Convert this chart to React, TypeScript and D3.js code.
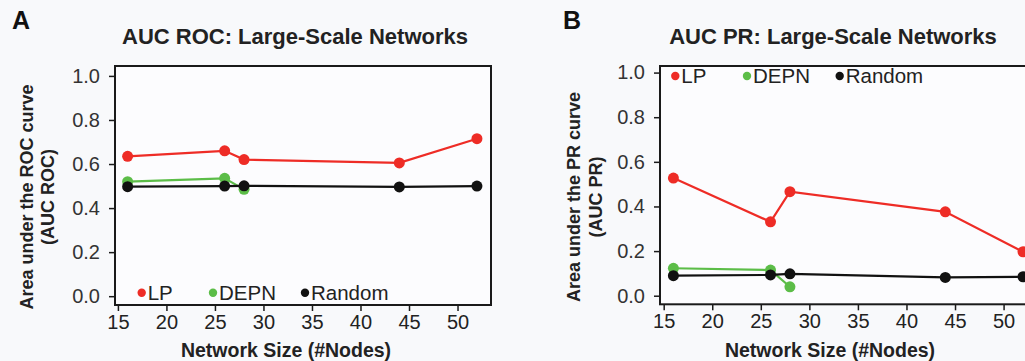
import React, { useEffect, useRef } from "react";
import * as d3 from "d3";

// network sizes (x) for each series
const nodeSizes = [16, 26, 28, 44, 52];
const depnSizes = [16, 26, 28];

// AUC ROC values
const rocLP = [0.635, 0.66, 0.62, 0.605, 0.715];
const rocDEPN = [0.52, 0.535, 0.485];
const rocRandom = [0.497, 0.5, 0.501, 0.496, 0.5];

// AUC PR values
const prLP = [0.527, 0.331, 0.466, 0.376, 0.197];
const prDEPN = [0.123, 0.115, 0.04];
const prRandom = [0.09, 0.093, 0.098, 0.082, 0.085];

const yTicks = [0, 0.2, 0.4, 0.6, 0.8, 1.0];
const xTicks = [15, 20, 25, 30, 35, 40, 45, 50];
const legendNames = ["LP", "DEPN", "Random"];

const COLORS = ["#ee2c26", "#5cbd48", "#111111"];
const FONT = "'Liberation Sans', Arial, sans-serif";

const panels = [
  {
    letter: "A",
    title: "AUC ROC: Large-Scale Networks",
    yLabel: ["Area under the ROC curve", "(AUC ROC)"],
    series: [rocLP, rocDEPN, rocRandom],
    box: { left: 115, right: 491, top: 66, bottom: 305 },
    xDomain: [14.7, 53.45],
    yDomain: [-0.04, 1.045],
    letterX: 12,
    titleX: 295,
    yLabelX: [33, 54],
    xLabelX: 286,
    legendY: 292.7,
    legendDots: [141.7, 213, 305],
  },
  {
    letter: "B",
    title: "AUC PR: Large-Scale Networks",
    yLabel: ["Area under the PR curve", "(AUC PR)"],
    series: [prLP, prDEPN, prRandom],
    box: { left: 660, right: 1040, top: 66, bottom: 304.3 },
    xDomain: [14.62, 53.75],
    yDomain: [-0.0385, 1.0295],
    letterX: 563,
    titleX: 833,
    yLabelX: [580, 602],
    xLabelX: 830,
    legendY: 76,
    legendDots: [675.3, 747, 839.7],
  },
];

const App = () => {
  const ref = useRef<SVGSVGElement>(null);

  useEffect(() => {
    const svg = d3.select(ref.current);
    svg.selectAll("*").remove();

    svg.append("rect").attr("width", 1025).attr("height", 361).attr("fill", "#f8f9fb");

    panels.forEach((p) => {
      const g = svg.append("g");
      const b = p.box;
      const x = d3.scaleLinear().domain(p.xDomain).range([b.left, b.right]);
      const y = d3.scaleLinear().domain(p.yDomain).range([b.bottom, b.top]);

      g.append("rect")
        .attr("x", b.left)
        .attr("y", b.top)
        .attr("width", b.right - b.left)
        .attr("height", b.bottom - b.top)
        .attr("fill", "#fcfcfe")
        .attr("stroke", "#1a1a1a")
        .attr("stroke-width", 2);

      const yAxis = d3
        .axisLeft(y)
        .tickValues(yTicks)
        .tickSize(6)
        .tickPadding(9)
        .tickFormat(d3.format(".1f"));
      const ya = g.append("g").attr("transform", `translate(${b.left},0)`).call(yAxis);
      ya.select(".domain").remove();
      ya.selectAll("line").attr("stroke", "#1a1a1a").attr("stroke-width", 1.5);
      ya.selectAll("text")
        .attr("font-family", FONT)
        .attr("font-size", 20)
        .attr("fill", "#333");

      const xAxis = d3.axisBottom(x).tickValues(xTicks).tickSize(6).tickPadding(4);
      const xa = g.append("g").attr("transform", `translate(0,${b.bottom})`).call(xAxis);
      xa.select(".domain").remove();
      xa.selectAll("line").attr("stroke", "#1a1a1a").attr("stroke-width", 1.5);
      xa.selectAll("text")
        .attr("font-family", "'Liberation Sans Narrow', " + FONT)
        .attr("font-size", 20)
        .attr("fill", "#222");

      const line = d3
        .line<[number, number]>()
        .x((d) => x(d[0]))
        .y((d) => y(d[1]));

      p.series.forEach((vals, i) => {
        const xs = vals.length === depnSizes.length ? depnSizes : nodeSizes;
        const pts: [number, number][] = vals.map((v, j) => [xs[j], v]);
        g.append("path")
          .attr("d", line(pts))
          .attr("fill", "none")
          .attr("stroke", COLORS[i])
          .attr("stroke-width", 2.2);
        g.selectAll(null)
          .data(pts)
          .enter()
          .append("circle")
          .attr("cx", (d) => x(d[0]))
          .attr("cy", (d) => y(d[1]))
          .attr("r", 5.5)
          .attr("fill", COLORS[i]);
      });

      // legend
      legendNames.forEach((name, i) => {
        const cx = p.legendDots[i];
        g.append("circle").attr("cx", cx).attr("cy", p.legendY).attr("r", 4.2).attr("fill", COLORS[i]);
        g.append("text")
          .attr("x", cx + 6)
          .attr("y", p.legendY + 7)
          .attr("font-family", FONT)
          .attr("font-size", 20.5)
          .attr("fill", "#222")
          .text(name);
      });

      g.append("text")
        .attr("x", p.letterX)
        .attr("y", 28.5)
        .attr("font-family", FONT)
        .attr("font-weight", "bold")
        .attr("font-size", 25)
        .attr("fill", "#111")
        .text(p.letter);

      g.append("text")
        .attr("x", p.titleX)
        .attr("y", 44)
        .attr("text-anchor", "middle")
        .attr("font-family", FONT)
        .attr("font-weight", "bold")
        .attr("font-size", 22)
        .attr("fill", "#222")
        .text(p.title);

      p.yLabel.forEach((t, i) => {
        g.append("text")
          .attr("transform", `translate(${p.yLabelX[i]},197) rotate(-90)`)
          .attr("text-anchor", "middle")
          .attr("font-family", FONT)
          .attr("font-weight", "bold")
          .attr("font-size", 18)
          .attr("fill", "#222")
          .text(t);
      });

      g.append("text")
        .attr("x", p.xLabelX)
        .attr("y", 357)
        .attr("text-anchor", "middle")
        .attr("font-family", FONT)
        .attr("font-weight", "bold")
        .attr("font-size", 19.5)
        .attr("fill", "#222")
        .text("Network Size (#Nodes)");
    });
  }, []);

  return (
    <svg
      ref={ref}
      width={1025}
      height={361}
      style={{ position: "absolute", left: 0, top: 0, display: "block" }}
    ></svg>
  );
};

export default App;
